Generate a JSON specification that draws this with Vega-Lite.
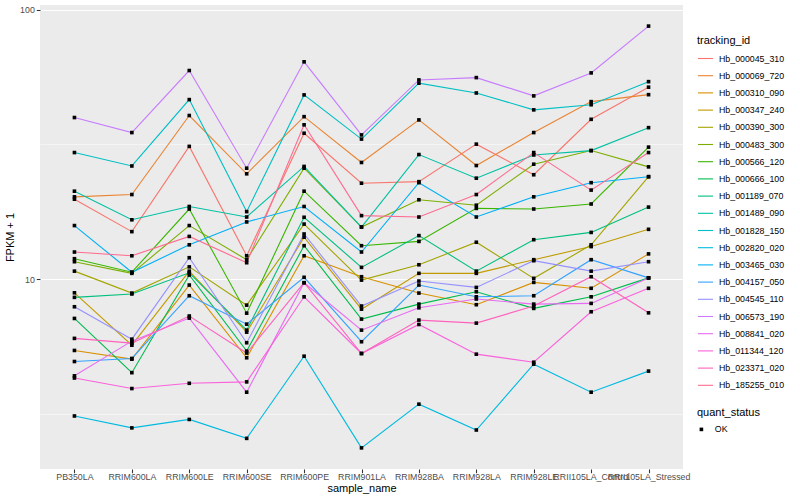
{
"$schema": "https://vega.github.io/schema/vega-lite/v6.json",
"autosize": {"type": "none"},
"padding": {"left": 40, "top": 5, "right": 117, "bottom": 31},
"width": 643,
"height": 464,
"background": "white",
"data": {"values": [
{"tracking_id":"Hb_000045_310","sample_name":"PB350LA","fpkm":19.8,"quant_status":"OK"},
{"tracking_id":"Hb_000045_310","sample_name":"RRIM600LA","fpkm":15.0,"quant_status":"OK"},
{"tracking_id":"Hb_000045_310","sample_name":"RRIM600LE","fpkm":31.1,"quant_status":"OK"},
{"tracking_id":"Hb_000045_310","sample_name":"RRIM600SE","fpkm":12.2,"quant_status":"OK"},
{"tracking_id":"Hb_000045_310","sample_name":"RRIM600PE","fpkm":34.8,"quant_status":"OK"},
{"tracking_id":"Hb_000045_310","sample_name":"RRIM901LA","fpkm":22.7,"quant_status":"OK"},
{"tracking_id":"Hb_000045_310","sample_name":"RRIM928BA","fpkm":23.0,"quant_status":"OK"},
{"tracking_id":"Hb_000045_310","sample_name":"RRIM928LA","fpkm":31.7,"quant_status":"OK"},
{"tracking_id":"Hb_000045_310","sample_name":"RRIM928LE","fpkm":24.4,"quant_status":"OK"},
{"tracking_id":"Hb_000045_310","sample_name":"RRII105LA_Control","fpkm":39.2,"quant_status":"OK"},
{"tracking_id":"Hb_000045_310","sample_name":"RRII105LA_Stressed","fpkm":51.6,"quant_status":"OK"},
{"tracking_id":"Hb_000069_720","sample_name":"PB350LA","fpkm":20.2,"quant_status":"OK"},
{"tracking_id":"Hb_000069_720","sample_name":"RRIM600LA","fpkm":20.6,"quant_status":"OK"},
{"tracking_id":"Hb_000069_720","sample_name":"RRIM600LE","fpkm":40.5,"quant_status":"OK"},
{"tracking_id":"Hb_000069_720","sample_name":"RRIM600SE","fpkm":24.6,"quant_status":"OK"},
{"tracking_id":"Hb_000069_720","sample_name":"RRIM600PE","fpkm":40.1,"quant_status":"OK"},
{"tracking_id":"Hb_000069_720","sample_name":"RRIM901LA","fpkm":27.1,"quant_status":"OK"},
{"tracking_id":"Hb_000069_720","sample_name":"RRIM928BA","fpkm":39.0,"quant_status":"OK"},
{"tracking_id":"Hb_000069_720","sample_name":"RRIM928LA","fpkm":26.4,"quant_status":"OK"},
{"tracking_id":"Hb_000069_720","sample_name":"RRIM928LE","fpkm":35.0,"quant_status":"OK"},
{"tracking_id":"Hb_000069_720","sample_name":"RRII105LA_Control","fpkm":45.6,"quant_status":"OK"},
{"tracking_id":"Hb_000069_720","sample_name":"RRII105LA_Stressed","fpkm":48.4,"quant_status":"OK"},
{"tracking_id":"Hb_000310_090","sample_name":"PB350LA","fpkm":5.43,"quant_status":"OK"},
{"tracking_id":"Hb_000310_090","sample_name":"RRIM600LA","fpkm":5.04,"quant_status":"OK"},
{"tracking_id":"Hb_000310_090","sample_name":"RRIM600LE","fpkm":9.50,"quant_status":"OK"},
{"tracking_id":"Hb_000310_090","sample_name":"RRIM600SE","fpkm":5.10,"quant_status":"OK"},
{"tracking_id":"Hb_000310_090","sample_name":"RRIM600PE","fpkm":12.2,"quant_status":"OK"},
{"tracking_id":"Hb_000310_090","sample_name":"RRIM901LA","fpkm":10.2,"quant_status":"OK"},
{"tracking_id":"Hb_000310_090","sample_name":"RRIM928BA","fpkm":8.87,"quant_status":"OK"},
{"tracking_id":"Hb_000310_090","sample_name":"RRIM928LA","fpkm":8.03,"quant_status":"OK"},
{"tracking_id":"Hb_000310_090","sample_name":"RRIM928LE","fpkm":9.72,"quant_status":"OK"},
{"tracking_id":"Hb_000310_090","sample_name":"RRII105LA_Control","fpkm":9.24,"quant_status":"OK"},
{"tracking_id":"Hb_000310_090","sample_name":"RRII105LA_Stressed","fpkm":12.4,"quant_status":"OK"},
{"tracking_id":"Hb_000347_240","sample_name":"PB350LA","fpkm":8.89,"quant_status":"OK"},
{"tracking_id":"Hb_000347_240","sample_name":"RRIM600LA","fpkm":5.68,"quant_status":"OK"},
{"tracking_id":"Hb_000347_240","sample_name":"RRIM600LE","fpkm":10.7,"quant_status":"OK"},
{"tracking_id":"Hb_000347_240","sample_name":"RRIM600SE","fpkm":6.35,"quant_status":"OK"},
{"tracking_id":"Hb_000347_240","sample_name":"RRIM600PE","fpkm":14.3,"quant_status":"OK"},
{"tracking_id":"Hb_000347_240","sample_name":"RRIM901LA","fpkm":7.73,"quant_status":"OK"},
{"tracking_id":"Hb_000347_240","sample_name":"RRIM928BA","fpkm":10.5,"quant_status":"OK"},
{"tracking_id":"Hb_000347_240","sample_name":"RRIM928LA","fpkm":10.5,"quant_status":"OK"},
{"tracking_id":"Hb_000347_240","sample_name":"RRIM928LE","fpkm":11.8,"quant_status":"OK"},
{"tracking_id":"Hb_000347_240","sample_name":"RRII105LA_Control","fpkm":13.2,"quant_status":"OK"},
{"tracking_id":"Hb_000347_240","sample_name":"RRII105LA_Stressed","fpkm":15.3,"quant_status":"OK"},
{"tracking_id":"Hb_000390_300","sample_name":"PB350LA","fpkm":10.7,"quant_status":"OK"},
{"tracking_id":"Hb_000390_300","sample_name":"RRIM600LA","fpkm":8.87,"quant_status":"OK"},
{"tracking_id":"Hb_000390_300","sample_name":"RRIM600LE","fpkm":11.1,"quant_status":"OK"},
{"tracking_id":"Hb_000390_300","sample_name":"RRIM600SE","fpkm":8.00,"quant_status":"OK"},
{"tracking_id":"Hb_000390_300","sample_name":"RRIM600PE","fpkm":16.0,"quant_status":"OK"},
{"tracking_id":"Hb_000390_300","sample_name":"RRIM901LA","fpkm":9.91,"quant_status":"OK"},
{"tracking_id":"Hb_000390_300","sample_name":"RRIM928BA","fpkm":11.3,"quant_status":"OK"},
{"tracking_id":"Hb_000390_300","sample_name":"RRIM928LA","fpkm":13.7,"quant_status":"OK"},
{"tracking_id":"Hb_000390_300","sample_name":"RRIM928LE","fpkm":10.06,"quant_status":"OK"},
{"tracking_id":"Hb_000390_300","sample_name":"RRII105LA_Control","fpkm":13.4,"quant_status":"OK"},
{"tracking_id":"Hb_000390_300","sample_name":"RRII105LA_Stressed","fpkm":24.0,"quant_status":"OK"},
{"tracking_id":"Hb_000483_300","sample_name":"PB350LA","fpkm":11.6,"quant_status":"OK"},
{"tracking_id":"Hb_000483_300","sample_name":"RRIM600LA","fpkm":10.5,"quant_status":"OK"},
{"tracking_id":"Hb_000483_300","sample_name":"RRIM600LE","fpkm":15.8,"quant_status":"OK"},
{"tracking_id":"Hb_000483_300","sample_name":"RRIM600SE","fpkm":11.8,"quant_status":"OK"},
{"tracking_id":"Hb_000483_300","sample_name":"RRIM600PE","fpkm":25.8,"quant_status":"OK"},
{"tracking_id":"Hb_000483_300","sample_name":"RRIM901LA","fpkm":15.6,"quant_status":"OK"},
{"tracking_id":"Hb_000483_300","sample_name":"RRIM928BA","fpkm":19.7,"quant_status":"OK"},
{"tracking_id":"Hb_000483_300","sample_name":"RRIM928LA","fpkm":18.8,"quant_status":"OK"},
{"tracking_id":"Hb_000483_300","sample_name":"RRIM928LE","fpkm":26.7,"quant_status":"OK"},
{"tracking_id":"Hb_000483_300","sample_name":"RRII105LA_Control","fpkm":30.0,"quant_status":"OK"},
{"tracking_id":"Hb_000483_300","sample_name":"RRII105LA_Stressed","fpkm":26.1,"quant_status":"OK"},
{"tracking_id":"Hb_000566_120","sample_name":"PB350LA","fpkm":11.9,"quant_status":"OK"},
{"tracking_id":"Hb_000566_120","sample_name":"RRIM600LA","fpkm":10.6,"quant_status":"OK"},
{"tracking_id":"Hb_000566_120","sample_name":"RRIM600LE","fpkm":18.2,"quant_status":"OK"},
{"tracking_id":"Hb_000566_120","sample_name":"RRIM600SE","fpkm":7.47,"quant_status":"OK"},
{"tracking_id":"Hb_000566_120","sample_name":"RRIM600PE","fpkm":21.2,"quant_status":"OK"},
{"tracking_id":"Hb_000566_120","sample_name":"RRIM901LA","fpkm":13.3,"quant_status":"OK"},
{"tracking_id":"Hb_000566_120","sample_name":"RRIM928BA","fpkm":13.8,"quant_status":"OK"},
{"tracking_id":"Hb_000566_120","sample_name":"RRIM928LA","fpkm":18.3,"quant_status":"OK"},
{"tracking_id":"Hb_000566_120","sample_name":"RRIM928LE","fpkm":18.2,"quant_status":"OK"},
{"tracking_id":"Hb_000566_120","sample_name":"RRII105LA_Control","fpkm":19.0,"quant_status":"OK"},
{"tracking_id":"Hb_000566_120","sample_name":"RRII105LA_Stressed","fpkm":30.9,"quant_status":"OK"},
{"tracking_id":"Hb_000666_100","sample_name":"PB350LA","fpkm":7.14,"quant_status":"OK"},
{"tracking_id":"Hb_000666_100","sample_name":"RRIM600LA","fpkm":4.49,"quant_status":"OK"},
{"tracking_id":"Hb_000666_100","sample_name":"RRIM600LE","fpkm":10.35,"quant_status":"OK"},
{"tracking_id":"Hb_000666_100","sample_name":"RRIM600SE","fpkm":5.40,"quant_status":"OK"},
{"tracking_id":"Hb_000666_100","sample_name":"RRIM600PE","fpkm":13.3,"quant_status":"OK"},
{"tracking_id":"Hb_000666_100","sample_name":"RRIM901LA","fpkm":7.10,"quant_status":"OK"},
{"tracking_id":"Hb_000666_100","sample_name":"RRIM928BA","fpkm":8.07,"quant_status":"OK"},
{"tracking_id":"Hb_000666_100","sample_name":"RRIM928LA","fpkm":8.97,"quant_status":"OK"},
{"tracking_id":"Hb_000666_100","sample_name":"RRIM928LE","fpkm":7.78,"quant_status":"OK"},
{"tracking_id":"Hb_000666_100","sample_name":"RRII105LA_Control","fpkm":8.59,"quant_status":"OK"},
{"tracking_id":"Hb_000666_100","sample_name":"RRII105LA_Stressed","fpkm":10.1,"quant_status":"OK"},
{"tracking_id":"Hb_001189_070","sample_name":"PB350LA","fpkm":8.55,"quant_status":"OK"},
{"tracking_id":"Hb_001189_070","sample_name":"RRIM600LA","fpkm":8.80,"quant_status":"OK"},
{"tracking_id":"Hb_001189_070","sample_name":"RRIM600LE","fpkm":10.55,"quant_status":"OK"},
{"tracking_id":"Hb_001189_070","sample_name":"RRIM600SE","fpkm":6.46,"quant_status":"OK"},
{"tracking_id":"Hb_001189_070","sample_name":"RRIM600PE","fpkm":16.96,"quant_status":"OK"},
{"tracking_id":"Hb_001189_070","sample_name":"RRIM901LA","fpkm":11.05,"quant_status":"OK"},
{"tracking_id":"Hb_001189_070","sample_name":"RRIM928BA","fpkm":14.5,"quant_status":"OK"},
{"tracking_id":"Hb_001189_070","sample_name":"RRIM928LA","fpkm":10.7,"quant_status":"OK"},
{"tracking_id":"Hb_001189_070","sample_name":"RRIM928LE","fpkm":14.0,"quant_status":"OK"},
{"tracking_id":"Hb_001189_070","sample_name":"RRII105LA_Control","fpkm":14.9,"quant_status":"OK"},
{"tracking_id":"Hb_001189_070","sample_name":"RRII105LA_Stressed","fpkm":18.5,"quant_status":"OK"},
{"tracking_id":"Hb_001489_090","sample_name":"PB350LA","fpkm":21.2,"quant_status":"OK"},
{"tracking_id":"Hb_001489_090","sample_name":"RRIM600LA","fpkm":16.6,"quant_status":"OK"},
{"tracking_id":"Hb_001489_090","sample_name":"RRIM600LE","fpkm":18.6,"quant_status":"OK"},
{"tracking_id":"Hb_001489_090","sample_name":"RRIM600SE","fpkm":17.0,"quant_status":"OK"},
{"tracking_id":"Hb_001489_090","sample_name":"RRIM600PE","fpkm":26.2,"quant_status":"OK"},
{"tracking_id":"Hb_001489_090","sample_name":"RRIM901LA","fpkm":15.6,"quant_status":"OK"},
{"tracking_id":"Hb_001489_090","sample_name":"RRIM928BA","fpkm":29.0,"quant_status":"OK"},
{"tracking_id":"Hb_001489_090","sample_name":"RRIM928LA","fpkm":23.7,"quant_status":"OK"},
{"tracking_id":"Hb_001489_090","sample_name":"RRIM928LE","fpkm":28.9,"quant_status":"OK"},
{"tracking_id":"Hb_001489_090","sample_name":"RRII105LA_Control","fpkm":30.0,"quant_status":"OK"},
{"tracking_id":"Hb_001489_090","sample_name":"RRII105LA_Stressed","fpkm":36.5,"quant_status":"OK"},
{"tracking_id":"Hb_001828_150","sample_name":"PB350LA","fpkm":29.5,"quant_status":"OK"},
{"tracking_id":"Hb_001828_150","sample_name":"RRIM600LA","fpkm":26.3,"quant_status":"OK"},
{"tracking_id":"Hb_001828_150","sample_name":"RRIM600LE","fpkm":46.4,"quant_status":"OK"},
{"tracking_id":"Hb_001828_150","sample_name":"RRIM600SE","fpkm":17.8,"quant_status":"OK"},
{"tracking_id":"Hb_001828_150","sample_name":"RRIM600PE","fpkm":48.3,"quant_status":"OK"},
{"tracking_id":"Hb_001828_150","sample_name":"RRIM901LA","fpkm":33.1,"quant_status":"OK"},
{"tracking_id":"Hb_001828_150","sample_name":"RRIM928BA","fpkm":53.4,"quant_status":"OK"},
{"tracking_id":"Hb_001828_150","sample_name":"RRIM928LA","fpkm":49.1,"quant_status":"OK"},
{"tracking_id":"Hb_001828_150","sample_name":"RRIM928LE","fpkm":42.5,"quant_status":"OK"},
{"tracking_id":"Hb_001828_150","sample_name":"RRII105LA_Control","fpkm":44.4,"quant_status":"OK"},
{"tracking_id":"Hb_001828_150","sample_name":"RRII105LA_Stressed","fpkm":54.1,"quant_status":"OK"},
{"tracking_id":"Hb_002820_020","sample_name":"PB350LA","fpkm":3.10,"quant_status":"OK"},
{"tracking_id":"Hb_002820_020","sample_name":"RRIM600LA","fpkm":2.80,"quant_status":"OK"},
{"tracking_id":"Hb_002820_020","sample_name":"RRIM600LE","fpkm":3.01,"quant_status":"OK"},
{"tracking_id":"Hb_002820_020","sample_name":"RRIM600SE","fpkm":2.56,"quant_status":"OK"},
{"tracking_id":"Hb_002820_020","sample_name":"RRIM600PE","fpkm":5.17,"quant_status":"OK"},
{"tracking_id":"Hb_002820_020","sample_name":"RRIM901LA","fpkm":2.36,"quant_status":"OK"},
{"tracking_id":"Hb_002820_020","sample_name":"RRIM928BA","fpkm":3.43,"quant_status":"OK"},
{"tracking_id":"Hb_002820_020","sample_name":"RRIM928LA","fpkm":2.75,"quant_status":"OK"},
{"tracking_id":"Hb_002820_020","sample_name":"RRIM928LE","fpkm":4.83,"quant_status":"OK"},
{"tracking_id":"Hb_002820_020","sample_name":"RRII105LA_Control","fpkm":3.80,"quant_status":"OK"},
{"tracking_id":"Hb_002820_020","sample_name":"RRII105LA_Stressed","fpkm":4.55,"quant_status":"OK"},
{"tracking_id":"Hb_003465_030","sample_name":"PB350LA","fpkm":15.8,"quant_status":"OK"},
{"tracking_id":"Hb_003465_030","sample_name":"RRIM600LA","fpkm":10.6,"quant_status":"OK"},
{"tracking_id":"Hb_003465_030","sample_name":"RRIM600LE","fpkm":13.4,"quant_status":"OK"},
{"tracking_id":"Hb_003465_030","sample_name":"RRIM600SE","fpkm":16.3,"quant_status":"OK"},
{"tracking_id":"Hb_003465_030","sample_name":"RRIM600PE","fpkm":18.6,"quant_status":"OK"},
{"tracking_id":"Hb_003465_030","sample_name":"RRIM901LA","fpkm":12.6,"quant_status":"OK"},
{"tracking_id":"Hb_003465_030","sample_name":"RRIM928BA","fpkm":22.8,"quant_status":"OK"},
{"tracking_id":"Hb_003465_030","sample_name":"RRIM928LA","fpkm":17.0,"quant_status":"OK"},
{"tracking_id":"Hb_003465_030","sample_name":"RRIM928LE","fpkm":20.2,"quant_status":"OK"},
{"tracking_id":"Hb_003465_030","sample_name":"RRII105LA_Control","fpkm":22.8,"quant_status":"OK"},
{"tracking_id":"Hb_003465_030","sample_name":"RRII105LA_Stressed","fpkm":24.0,"quant_status":"OK"},
{"tracking_id":"Hb_004157_050","sample_name":"PB350LA","fpkm":4.94,"quant_status":"OK"},
{"tracking_id":"Hb_004157_050","sample_name":"RRIM600LA","fpkm":5.07,"quant_status":"OK"},
{"tracking_id":"Hb_004157_050","sample_name":"RRIM600LE","fpkm":8.67,"quant_status":"OK"},
{"tracking_id":"Hb_004157_050","sample_name":"RRIM600SE","fpkm":6.80,"quant_status":"OK"},
{"tracking_id":"Hb_004157_050","sample_name":"RRIM600PE","fpkm":10.15,"quant_status":"OK"},
{"tracking_id":"Hb_004157_050","sample_name":"RRIM901LA","fpkm":5.85,"quant_status":"OK"},
{"tracking_id":"Hb_004157_050","sample_name":"RRIM928BA","fpkm":9.50,"quant_status":"OK"},
{"tracking_id":"Hb_004157_050","sample_name":"RRIM928LA","fpkm":8.59,"quant_status":"OK"},
{"tracking_id":"Hb_004157_050","sample_name":"RRIM928LE","fpkm":8.67,"quant_status":"OK"},
{"tracking_id":"Hb_004157_050","sample_name":"RRII105LA_Control","fpkm":11.8,"quant_status":"OK"},
{"tracking_id":"Hb_004157_050","sample_name":"RRII105LA_Stressed","fpkm":10.1,"quant_status":"OK"},
{"tracking_id":"Hb_004545_110","sample_name":"PB350LA","fpkm":7.89,"quant_status":"OK"},
{"tracking_id":"Hb_004545_110","sample_name":"RRIM600LA","fpkm":5.98,"quant_status":"OK"},
{"tracking_id":"Hb_004545_110","sample_name":"RRIM600LE","fpkm":12.0,"quant_status":"OK"},
{"tracking_id":"Hb_004545_110","sample_name":"RRIM600SE","fpkm":5.80,"quant_status":"OK"},
{"tracking_id":"Hb_004545_110","sample_name":"RRIM600PE","fpkm":14.7,"quant_status":"OK"},
{"tracking_id":"Hb_004545_110","sample_name":"RRIM901LA","fpkm":7.94,"quant_status":"OK"},
{"tracking_id":"Hb_004545_110","sample_name":"RRIM928BA","fpkm":9.83,"quant_status":"OK"},
{"tracking_id":"Hb_004545_110","sample_name":"RRIM928LA","fpkm":9.31,"quant_status":"OK"},
{"tracking_id":"Hb_004545_110","sample_name":"RRIM928LE","fpkm":11.7,"quant_status":"OK"},
{"tracking_id":"Hb_004545_110","sample_name":"RRII105LA_Control","fpkm":10.7,"quant_status":"OK"},
{"tracking_id":"Hb_004545_110","sample_name":"RRII105LA_Stressed","fpkm":11.6,"quant_status":"OK"},
{"tracking_id":"Hb_006573_190","sample_name":"PB350LA","fpkm":39.8,"quant_status":"OK"},
{"tracking_id":"Hb_006573_190","sample_name":"RRIM600LA","fpkm":35.0,"quant_status":"OK"},
{"tracking_id":"Hb_006573_190","sample_name":"RRIM600LE","fpkm":59.5,"quant_status":"OK"},
{"tracking_id":"Hb_006573_190","sample_name":"RRIM600SE","fpkm":25.8,"quant_status":"OK"},
{"tracking_id":"Hb_006573_190","sample_name":"RRIM600PE","fpkm":64.1,"quant_status":"OK"},
{"tracking_id":"Hb_006573_190","sample_name":"RRIM901LA","fpkm":34.3,"quant_status":"OK"},
{"tracking_id":"Hb_006573_190","sample_name":"RRIM928BA","fpkm":54.9,"quant_status":"OK"},
{"tracking_id":"Hb_006573_190","sample_name":"RRIM928LA","fpkm":56.0,"quant_status":"OK"},
{"tracking_id":"Hb_006573_190","sample_name":"RRIM928LE","fpkm":47.9,"quant_status":"OK"},
{"tracking_id":"Hb_006573_190","sample_name":"RRII105LA_Control","fpkm":58.3,"quant_status":"OK"},
{"tracking_id":"Hb_006573_190","sample_name":"RRII105LA_Stressed","fpkm":87.0,"quant_status":"OK"},
{"tracking_id":"Hb_008841_020","sample_name":"PB350LA","fpkm":4.37,"quant_status":"OK"},
{"tracking_id":"Hb_008841_020","sample_name":"RRIM600LA","fpkm":5.88,"quant_status":"OK"},
{"tracking_id":"Hb_008841_020","sample_name":"RRIM600LE","fpkm":7.16,"quant_status":"OK"},
{"tracking_id":"Hb_008841_020","sample_name":"RRIM600SE","fpkm":3.80,"quant_status":"OK"},
{"tracking_id":"Hb_008841_020","sample_name":"RRIM600PE","fpkm":9.69,"quant_status":"OK"},
{"tracking_id":"Hb_008841_020","sample_name":"RRIM901LA","fpkm":6.46,"quant_status":"OK"},
{"tracking_id":"Hb_008841_020","sample_name":"RRIM928BA","fpkm":7.82,"quant_status":"OK"},
{"tracking_id":"Hb_008841_020","sample_name":"RRIM928LA","fpkm":8.43,"quant_status":"OK"},
{"tracking_id":"Hb_008841_020","sample_name":"RRIM928LE","fpkm":8.07,"quant_status":"OK"},
{"tracking_id":"Hb_008841_020","sample_name":"RRII105LA_Control","fpkm":8.12,"quant_status":"OK"},
{"tracking_id":"Hb_008841_020","sample_name":"RRII105LA_Stressed","fpkm":10.1,"quant_status":"OK"},
{"tracking_id":"Hb_011344_120","sample_name":"PB350LA","fpkm":4.29,"quant_status":"OK"},
{"tracking_id":"Hb_011344_120","sample_name":"RRIM600LA","fpkm":3.92,"quant_status":"OK"},
{"tracking_id":"Hb_011344_120","sample_name":"RRIM600LE","fpkm":4.10,"quant_status":"OK"},
{"tracking_id":"Hb_011344_120","sample_name":"RRIM600SE","fpkm":4.15,"quant_status":"OK"},
{"tracking_id":"Hb_011344_120","sample_name":"RRIM600PE","fpkm":8.59,"quant_status":"OK"},
{"tracking_id":"Hb_011344_120","sample_name":"RRIM901LA","fpkm":5.29,"quant_status":"OK"},
{"tracking_id":"Hb_011344_120","sample_name":"RRIM928BA","fpkm":6.78,"quant_status":"OK"},
{"tracking_id":"Hb_011344_120","sample_name":"RRIM928LA","fpkm":5.26,"quant_status":"OK"},
{"tracking_id":"Hb_011344_120","sample_name":"RRIM928LE","fpkm":4.91,"quant_status":"OK"},
{"tracking_id":"Hb_011344_120","sample_name":"RRII105LA_Control","fpkm":7.56,"quant_status":"OK"},
{"tracking_id":"Hb_011344_120","sample_name":"RRII105LA_Stressed","fpkm":9.24,"quant_status":"OK"},
{"tracking_id":"Hb_023371_020","sample_name":"PB350LA","fpkm":6.02,"quant_status":"OK"},
{"tracking_id":"Hb_023371_020","sample_name":"RRIM600LA","fpkm":5.78,"quant_status":"OK"},
{"tracking_id":"Hb_023371_020","sample_name":"RRIM600LE","fpkm":7.29,"quant_status":"OK"},
{"tracking_id":"Hb_023371_020","sample_name":"RRIM600SE","fpkm":5.31,"quant_status":"OK"},
{"tracking_id":"Hb_023371_020","sample_name":"RRIM600PE","fpkm":9.69,"quant_status":"OK"},
{"tracking_id":"Hb_023371_020","sample_name":"RRIM901LA","fpkm":5.29,"quant_status":"OK"},
{"tracking_id":"Hb_023371_020","sample_name":"RRIM928BA","fpkm":7.04,"quant_status":"OK"},
{"tracking_id":"Hb_023371_020","sample_name":"RRIM928LA","fpkm":6.86,"quant_status":"OK"},
{"tracking_id":"Hb_023371_020","sample_name":"RRIM928LE","fpkm":7.94,"quant_status":"OK"},
{"tracking_id":"Hb_023371_020","sample_name":"RRII105LA_Control","fpkm":10.2,"quant_status":"OK"},
{"tracking_id":"Hb_023371_020","sample_name":"RRII105LA_Stressed","fpkm":7.49,"quant_status":"OK"},
{"tracking_id":"Hb_185255_010","sample_name":"PB350LA","fpkm":12.6,"quant_status":"OK"},
{"tracking_id":"Hb_185255_010","sample_name":"RRIM600LA","fpkm":12.2,"quant_status":"OK"},
{"tracking_id":"Hb_185255_010","sample_name":"RRIM600LE","fpkm":14.4,"quant_status":"OK"},
{"tracking_id":"Hb_185255_010","sample_name":"RRIM600SE","fpkm":11.5,"quant_status":"OK"},
{"tracking_id":"Hb_185255_010","sample_name":"RRIM600PE","fpkm":37.4,"quant_status":"OK"},
{"tracking_id":"Hb_185255_010","sample_name":"RRIM901LA","fpkm":17.2,"quant_status":"OK"},
{"tracking_id":"Hb_185255_010","sample_name":"RRIM928BA","fpkm":17.0,"quant_status":"OK"},
{"tracking_id":"Hb_185255_010","sample_name":"RRIM928LA","fpkm":20.6,"quant_status":"OK"},
{"tracking_id":"Hb_185255_010","sample_name":"RRIM928LE","fpkm":29.5,"quant_status":"OK"},
{"tracking_id":"Hb_185255_010","sample_name":"RRII105LA_Control","fpkm":21.4,"quant_status":"OK"},
{"tracking_id":"Hb_185255_010","sample_name":"RRII105LA_Stressed","fpkm":29.5,"quant_status":"OK"}
]},
"encoding": {
  "x": {"field": "sample_name", "type": "nominal",
    "scale": {"type": "point", "padding": 0.6,
      "domain": ["PB350LA","RRIM600LA","RRIM600LE","RRIM600SE","RRIM600PE","RRIM901LA","RRIM928BA","RRIM928LA","RRIM928LE","RRII105LA_Control","RRII105LA_Stressed"]},
    "axis": {"title": "sample_name", "labelAngle": 0, "labelPadding": 0, "titlePadding": 1, "gridWidth": 1.07}},
  "y": {"field": "fpkm", "type": "quantitative",
    "scale": {"type": "log", "domain": [1.97, 104.2], "nice": false, "zero": false},
    "axis": {"title": "FPKM + 1", "values": [3.1623, 10, 31.623, 100],
      "labelExpr": "datum.value === 10 ? '10' : (datum.value === 100 ? '100' : '')",
      "gridWidth": {"condition": {"test": "datum.value === 10 || datum.value === 100", "value": 1.07}, "value": 0.53},
      "tickOpacity": {"condition": {"test": "datum.value === 10 || datum.value === 100", "value": 1}, "value": 0},
      "labelPadding": 2, "titlePadding": 4}}
},
"layer": [
  {"mark": {"type": "line", "strokeWidth": 1.1},
   "encoding": {
     "color": {"field": "tracking_id", "type": "nominal",
       "scale": {"domain": ["Hb_000045_310","Hb_000069_720","Hb_000310_090","Hb_000347_240","Hb_000390_300","Hb_000483_300","Hb_000566_120","Hb_000666_100","Hb_001189_070","Hb_001489_090","Hb_001828_150","Hb_002820_020","Hb_003465_030","Hb_004157_050","Hb_004545_110","Hb_006573_190","Hb_008841_020","Hb_011344_120","Hb_023371_020","Hb_185255_010"],
         "range": ["#F8766D","#EA8331","#D89000","#C09B00","#A3A500","#7CAE00","#39B600","#00BB4E","#00BF7D","#00C1A3","#00BFC4","#00BAE0","#00B0F6","#35A2FF","#9590FF","#C77CFF","#E76BF3","#FA62DB","#FF62BC","#FF6C91"]},
       "legend": {"orient": "none", "legendX": 657, "legendY": 30, "title": "tracking_id", "padding": 0,
         "titleFontSize": 11, "titleFontWeight": "normal", "titleColor": "black", "titlePadding": 4,
         "labelFontSize": 8.8, "labelColor": "black", "labelOffset": 5,
         "symbolType": "stroke", "symbolSize": 225, "symbolStrokeWidth": 1.1, "rowPadding": 3.2}}
   }},
  {"mark": {"type": "point", "filled": true, "color": "black", "size": 13, "opacity": 1},
   "encoding": {
     "shape": {"field": "quant_status", "type": "nominal", "scale": {"range": ["square"]},
       "legend": {"orient": "none", "legendX": 657, "legendY": 402, "title": "quant_status", "padding": 0,
         "titleFontSize": 11, "titleFontWeight": "normal", "titleColor": "black", "titlePadding": 7,
         "labelFontSize": 8.8, "labelColor": "black", "labelOffset": 9,
         "symbolSize": 13, "symbolFillColor": "black", "symbolStrokeColor": "black"}}
   }}
],
"config": {
  "font": "Liberation Sans",
  "view": {"fill": "#EBEBEB", "stroke": null},
  "axis": {"domain": false, "gridColor": "white", "tickColor": "#333333", "tickSize": 3.7, "tickWidth": 1.07,
    "labelColor": "#4D4D4D", "labelFontSize": 8.8, "titleFontSize": 11, "titleFontWeight": "normal", "titleColor": "black"}
}
}
